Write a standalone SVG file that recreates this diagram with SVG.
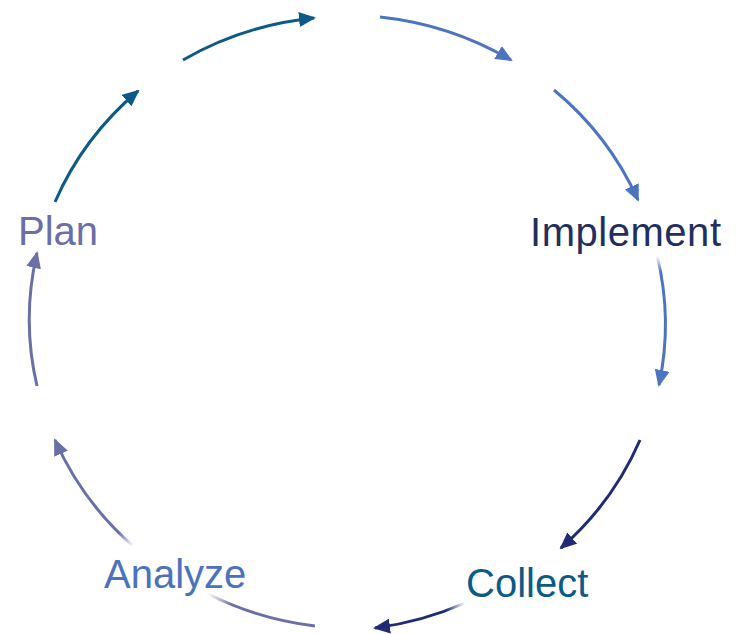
<svg xmlns="http://www.w3.org/2000/svg" width="736" height="634" viewBox="0 0 736 634">
  <style>
    .arc { fill: none; stroke-width: 3; stroke-linecap: butt; }
    .lbl { font-family: "Liberation Sans", Arial, sans-serif; font-size: 40px; }
  </style>
  <defs>
    <marker id="mTeal" markerUnits="userSpaceOnUse" markerWidth="17" markerHeight="15" viewBox="0 0 17 15" refX="15" refY="7.5" orient="auto">
      <path d="M0,0 L17,7.5 L0,15 Z" fill="#0b5a87"/>
    </marker>
    <marker id="mBlue" markerUnits="userSpaceOnUse" markerWidth="17" markerHeight="15" viewBox="0 0 17 15" refX="15" refY="7.5" orient="auto">
      <path d="M0,0 L17,7.5 L0,15 Z" fill="#4d74c0"/>
    </marker>
    <marker id="mNavy" markerUnits="userSpaceOnUse" markerWidth="17" markerHeight="15" viewBox="0 0 17 15" refX="15" refY="7.5" orient="auto">
      <path d="M0,0 L17,7.5 L0,15 Z" fill="#202b78"/>
    </marker>
    <marker id="mPurple" markerUnits="userSpaceOnUse" markerWidth="17" markerHeight="15" viewBox="0 0 17 15" refX="15" refY="7.5" orient="auto">
      <path d="M0,0 L17,7.5 L0,15 Z" fill="#6a6fa8"/>
    </marker>
    <linearGradient id="g5" gradientUnits="userSpaceOnUse" x1="0" y1="256" x2="0" y2="272">
      <stop offset="0" stop-color="#4d74c0" stop-opacity="0"/>
      <stop offset="1" stop-color="#4d74c0" stop-opacity="1"/>
    </linearGradient>
    <linearGradient id="g7" gradientUnits="userSpaceOnUse" x1="465" y1="0" x2="446" y2="0">
      <stop offset="0" stop-color="#202b78" stop-opacity="0"/>
      <stop offset="1" stop-color="#202b78" stop-opacity="1"/>
    </linearGradient>
    <linearGradient id="g8" gradientUnits="userSpaceOnUse" x1="232" y1="0" x2="208" y2="0">
      <stop offset="0" stop-color="#6a6fa8" stop-opacity="1"/>
      <stop offset="1" stop-color="#6a6fa8" stop-opacity="0"/>
    </linearGradient>
    <linearGradient id="g9" gradientUnits="userSpaceOnUse" x1="133" y1="546" x2="120" y2="532">
      <stop offset="0" stop-color="#6a6fa8" stop-opacity="0"/>
      <stop offset="1" stop-color="#6a6fa8" stop-opacity="1"/>
    </linearGradient>
  </defs>

  <g id="connectors">
    <path class="arc" stroke="#0b5a87" marker-end="url(#mTeal)" d="M55,202 A318,304 0 0 1 138,91"/>
    <path class="arc" stroke="#0b5a87" marker-end="url(#mTeal)" d="M183,60 A318,304 0 0 1 314,18"/>
    <path class="arc" stroke="#4d74c0" marker-end="url(#mBlue)" d="M380,17 A318,304 0 0 1 511,60"/>
    <path class="arc" stroke="#4d74c0" marker-end="url(#mBlue)" d="M554,90 A318,304 0 0 1 638,200"/>
    <path class="arc" stroke="url(#g5)" marker-end="url(#mBlue)" d="M657,255 A318,304 0 0 1 659,385"/>
    <path class="arc" stroke="#202b78" marker-end="url(#mNavy)" d="M640,440 A318,304 0 0 1 561,548"/>
    <path class="arc" stroke="url(#g7)" marker-end="url(#mNavy)" d="M465,603 A318,304 0 0 1 375,628"/>
    <path class="arc" stroke="url(#g8)" d="M315,626 A318,304 0 0 1 208,594"/>
    <path class="arc" stroke="url(#g9)" marker-end="url(#mPurple)" d="M133,546 A318,304 0 0 1 55,440"/>
    <path class="arc" stroke="#6a6fa8" marker-end="url(#mPurple)" d="M37,386 A318,304 0 0 1 37,253"/>
  </g>

  <g id="node-plan">
    <text class="lbl" x="18" y="245" fill="#6a6fa8">Plan</text>
  </g>
  <g id="node-implement">
    <text class="lbl" x="530" y="246" fill="#1f2f60" textLength="191" lengthAdjust="spacing">Implement</text>
  </g>
  <g id="node-collect">
    <text class="lbl" x="466" y="597" fill="#0b5a87">Collect</text>
  </g>
  <g id="node-analyze">
    <text class="lbl" x="104" y="588" fill="#4a72be">Analyze</text>
  </g>
</svg>
